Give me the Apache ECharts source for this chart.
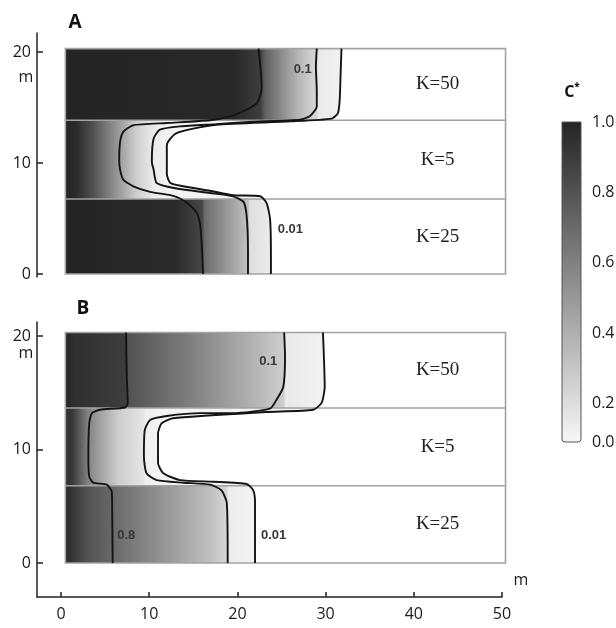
<!DOCTYPE html>
<html>
<head>
<meta charset="utf-8">
<script src="https://cdn.jsdelivr.net/npm/echarts@6/dist/echarts.min.js"></script>
<style>
  html, body { margin: 0; padding: 0; background: #ffffff; }
  #chart { width: 616px; height: 628px; }
</style>
</head>
<body>
<div id="chart"></div>
<script>
// ---------------------------------------------------------------------------
// Model domain and layering (m)
// ---------------------------------------------------------------------------
const domainX = [0.5, 50.4];
const layersA = [0, 6.75, 13.85, 20.3];   // layer boundaries, bottom to top
const layersB = [0, 6.8, 13.65, 20.3];
const kLabels = ['K=25', 'K=5', 'K=50'];  // bottom, middle, top layer

// Axis ticks
const xTicks = [0, 10, 20, 30, 40, 50];
const yTicks = [0, 10, 20];

// ---------------------------------------------------------------------------
// Concentration contours, [x, y] in m, traced from the top of the domain down
// ---------------------------------------------------------------------------
const contourA_08 = [
  [22.4, 20.3], [22.6, 18.7], [22.75, 16.9], [22.6, 16.1], [22.2, 15.4],
  [21.05, 14.8], [19.2, 14.2], [16.9, 13.85], [12.0, 13.6], [8.2, 13.4],
  [7.06, 12.8], [6.7, 11.9], [6.6, 10.3], [6.7, 9.4], [7.06, 8.5],
  [8.2, 7.9], [10.1, 7.4], [12.4, 7.1], [13.5, 6.8], [14.6, 6.2],
  [15.4, 5.5], [15.8, 4.3], [16.0, 2.0], [16.1, 0]
];
const contourA_01 = [
  [29.0, 20.3], [28.9, 18.7], [29.0, 16.5], [29.0, 15.1], [28.2, 14.2],
  [27.1, 13.9], [21.4, 13.7], [17.65, 13.5], [13.5, 13.3], [11.2, 13.0],
  [10.5, 12.2], [10.3, 10.1], [10.5, 9.4], [10.85, 8.2], [13.1, 7.7],
  [16.9, 7.3], [19.5, 7.0], [20.7, 6.5], [21.05, 5.2], [21.2, 2.0], [21.2, 0]
];
const contourA_001 = [
  [31.8, 20.3], [31.7, 18.0], [31.6, 15.7], [31.4, 14.5], [30.7, 14.0],
  [26.0, 13.75], [17.6, 13.45], [15.0, 13.1], [13.1, 12.7], [12.4, 12.2],
  [12.0, 11.6], [12.0, 9.0], [12.4, 8.2], [13.9, 7.9], [16.9, 7.5],
  [19.5, 7.1], [22.6, 7.0], [23.3, 6.4], [23.7, 5.0], [23.8, 2.0], [23.8, 0]
];

const contourB_08 = [
  [7.37, 20.3], [7.45, 16.7], [7.56, 14.1], [7.26, 13.7], [4.4, 13.5],
  [3.5, 13.2], [3.2, 12.3], [3.1, 9.4], [3.2, 7.6], [3.66, 7.07],
  [5.2, 6.9], [5.75, 6.3], [5.8, 5.0], [5.86, 0]
];
const contourB_01 = [
  [25.3, 20.3], [25.4, 18.2], [25.2, 15.5], [24.45, 14.4], [23.7, 13.6],
  [19.5, 13.2], [15.8, 13.2], [12.0, 12.95], [10.1, 12.6], [9.5, 11.7],
  [9.4, 9.4], [9.7, 7.9], [10.85, 7.3], [13.9, 7.07], [16.9, 6.9],
  [18.2, 6.4], [18.8, 5.3], [18.9, 0]
];
const contourB_001 = [
  [29.7, 20.3], [29.9, 15.5], [29.55, 14.1], [28.6, 13.5], [23.3, 13.3],
  [12.7, 12.75], [11.4, 12.3], [11.0, 11.4], [11.0, 8.8], [11.6, 7.9],
  [13.5, 7.3], [17.3, 7.16], [21.05, 6.96], [21.8, 6.4], [22.0, 5.3], [22.0, 0]
];

// ---------------------------------------------------------------------------
// Relative concentration C* across each layer, [x, C*], bottom layer first
// ---------------------------------------------------------------------------
const profileA = [
  [[0.5, 1], [13, 0.97], [16, 0.84], [16.3, 0.66], [21.2, 0.25], [21.4, 0.12], [23.8, 0.05]],
  [[0.5, 1], [1.8, 0.96], [3.5, 0.8], [6.7, 0.42], [8.5, 0.2], [10.4, 0.06], [12.0, 0.02]],
  [[0.5, 1], [19.5, 0.98], [22.6, 0.88], [23.2, 0.7], [27, 0.3], [29, 0.14], [29.2, 0.06], [31.8, 0.03]]
];
const profileB = [
  [[0.5, 0.98], [1.5, 0.9], [3, 0.78], [5.8, 0.68], [12, 0.45], [17, 0.26], [18.8, 0.15], [19.0, 0.05], [22.0, 0.02]],
  [[0.5, 0.95], [1.3, 0.9], [3.1, 0.55], [4, 0.45], [6.5, 0.2], [9.4, 0.08], [9.6, 0.04], [11.0, 0.02]],
  [[0.5, 1], [1.5, 0.95], [7.3, 0.88], [7.6, 0.78], [15, 0.56], [21, 0.35], [25.2, 0.2], [25.5, 0.06], [29.8, 0.03]]
];

// Colour bar
const cbarTicks = [0.1, 0.2, 0.3, 0.4, 0.5, 0.6, 0.7, 0.8, 0.9, 1.0];
const cbarBottom = 0.09;   // lowest level on the bar, labelled 0.0
const cbarLabels = [cbarBottom, 0.2, 0.4, 0.6, 0.8, 1.0];

// ---------------------------------------------------------------------------
// Helpers
// ---------------------------------------------------------------------------
function gray(c) {
  const v = Math.round(247 - c * (247 - 36));
  return 'rgb(' + v + ',' + v + ',' + v + ')';
}

// x position of a contour at height y (contour listed top to bottom)
function xOnContour(pts, y) {
  for (let i = 0; i < pts.length - 1; i++) {
    const [x1, y1] = pts[i], [x2, y2] = pts[i + 1];
    if (y <= y1 && y >= y2) {
      const t = y1 === y2 ? 0 : (y1 - y) / (y1 - y2);
      return x1 + t * (x2 - x1);
    }
  }
  return pts[pts.length - 1][0];
}

// Part of the domain left of the outermost contour inside one layer
function layerOutline(pts, y0, y1) {
  const out = [[domainX[0], y1], [xOnContour(pts, y1), y1]];
  pts.forEach(p => { if (p[1] < y1 && p[1] > y0) out.push(p); });
  out.push([xOnContour(pts, y0), y0], [domainX[0], y0]);
  return out;
}

function shadingSeries(panel, layers, outer, profiles) {
  return {
    type: 'custom', xAxisIndex: panel, yAxisIndex: panel, z: 1, silent: true,
    data: [[0], [1], [2]],
    renderItem: function (params, api) {
      const i = api.value(0);
      const prof = profiles[i];
      const pts = layerOutline(outer, layers[i], layers[i + 1]).map(p => api.coord(p));
      const xs = prof[0][0], xe = prof[prof.length - 1][0];
      const p0 = api.coord([xs, 0]), p1 = api.coord([xe, 0]);
      const stops = prof.map(s => ({ offset: (s[0] - xs) / (xe - xs), color: gray(s[1]) }));
      return {
        type: 'polygon',
        shape: { points: pts },
        style: {
          fill: { type: 'linear', x: p0[0], y: 0, x2: p1[0], y2: 0, global: true, colorStops: stops },
          stroke: null
        }
      };
    }
  };
}

function frameSeries(panel, layers) {
  return {
    type: 'custom', xAxisIndex: panel, yAxisIndex: panel, z: 2, silent: true,
    data: [[0]],
    renderItem: function (params, api) {
      const a = api.coord([domainX[0], layers[0]]);
      const b = api.coord([domainX[1], layers[3]]);
      const children = [{
        type: 'rect',
        shape: { x: a[0], y: b[1], width: b[0] - a[0], height: a[1] - b[1] },
        style: { fill: null, stroke: '#a2a2a2', lineWidth: 1.6 }
      }];
      [layers[1], layers[2]].forEach(yb => {
        const y = api.coord([0, yb])[1];
        children.push({
          type: 'line',
          shape: { x1: a[0], y1: y, x2: b[0], y2: y },
          style: { stroke: '#a2a2a2', lineWidth: 1.6 }
        });
      });
      return { type: 'group', children: children };
    }
  };
}

function contourSeries(panel, pts) {
  return {
    type: 'line', xAxisIndex: panel, yAxisIndex: panel, z: 3, silent: true,
    data: pts, showSymbol: false, symbol: 'none', smooth: 0.2,
    lineStyle: { color: '#141414', width: 1.9 }
  };
}

function textSeries(panel, items, font, color) {
  return {
    type: 'custom', xAxisIndex: panel, yAxisIndex: panel, z: 4, silent: true,
    data: items.map(d => [d.at[0], d.at[1]]),
    renderItem: function (params, api) {
      const p = api.coord([api.value(0), api.value(1)]);
      return {
        type: 'text', x: p[0], y: p[1],
        style: {
          text: items[params.dataIndex].text, font: font, fill: color,
          align: 'center', verticalAlign: 'middle',
          textAlign: 'center', textVerticalAlign: 'middle'
        }
      };
    }
  };
}

function kItems(layers) {
  return kLabels.map((t, i) => ({ text: t, at: [42.7, (layers[i] + layers[i + 1]) / 2] }));
}

const contourFont = 'bold 13px "Liberation Sans"';
const kFont = '19px "Liberation Serif"';
const tickFont = { fontFamily: 'Open Sans', fontSize: 16, color: '#1a1a1a' };

function yAxisFor(grid, min, max) {
  return {
    gridIndex: grid, type: 'value', min: min, max: max,
    axisLine: { show: true, onZero: false, lineStyle: { color: '#222', width: 1.5 } },
    axisTick: { show: true, inside: true, length: 6, customValues: yTicks, lineStyle: { color: '#222', width: 1.5 } },
    axisLabel: Object.assign({ customValues: yTicks, margin: 6 }, tickFont),
    splitLine: { show: false }
  };
}

const chart = echarts.init(document.getElementById('chart'), null, { renderer: 'canvas' });

const option = {
  animation: false,
  backgroundColor: '#ffffff',
  grid: [
    { left: 37, width: 465, top: 33, height: 244, outerBoundsMode: 'none' },
    { left: 37, width: 465, top: 322, height: 275, outerBoundsMode: 'none' },
    { left: 562, width: 19, top: 122, height: 320, outerBoundsMode: 'none' }
  ],
  xAxis: [
    { gridIndex: 0, type: 'value', min: -2.72, max: 50, show: false },
    {
      gridIndex: 1, type: 'value', min: -2.72, max: 50,
      axisLine: { show: true, onZero: false, lineStyle: { color: '#222', width: 1.5 } },
      axisTick: { show: true, inside: true, length: 5, customValues: xTicks, lineStyle: { color: '#222', width: 1.5 } },
      axisLabel: Object.assign({ customValues: xTicks, margin: 9 }, tickFont),
      splitLine: { show: false }
    },
    { gridIndex: 2, type: 'value', min: 0, max: 1, show: false }
  ],
  yAxis: [
    yAxisFor(0, -0.27, 21.71),
    yAxisFor(1, -3.0, 21.23),
    {
      gridIndex: 2, type: 'value', min: cbarBottom, max: 1, position: 'left',
      axisLine: { show: false },
      axisTick: { show: true, inside: true, length: 3, customValues: cbarTicks, lineStyle: { color: '#555' } },
      axisLabel: { show: false }, splitLine: { show: false }
    },
    {
      gridIndex: 2, type: 'value', min: cbarBottom, max: 1, position: 'right',
      axisLine: { show: false },
      axisTick: { show: true, inside: true, length: 3, customValues: cbarTicks, lineStyle: { color: '#555' } },
      axisLabel: Object.assign({
        customValues: cbarLabels, margin: 11,
        formatter: v => (v <= cbarBottom ? 0 : v).toFixed(1)
      }, tickFont),
      splitLine: { show: false }
    }
  ],
  graphic: [
    { type: 'text', x: 75, y: 23, style: { text: 'A', font: 'bold 19px "Open Sans"', fill: '#111', align: 'center', verticalAlign: 'middle', textAlign: 'center', textVerticalAlign: 'middle' } },
    { type: 'text', x: 83, y: 309, style: { text: 'B', font: 'bold 19px "Open Sans"', fill: '#111', align: 'center', verticalAlign: 'middle', textAlign: 'center', textVerticalAlign: 'middle' } },
    { type: 'text', x: 26, y: 77, style: { text: 'm', font: '16px "Open Sans"', fill: '#1a1a1a', align: 'center', verticalAlign: 'middle', textAlign: 'center', textVerticalAlign: 'middle' } },
    { type: 'text', x: 26, y: 353, style: { text: 'm', font: '16px "Open Sans"', fill: '#1a1a1a', align: 'center', verticalAlign: 'middle', textAlign: 'center', textVerticalAlign: 'middle' } },
    { type: 'text', x: 521, y: 580, style: { text: 'm', font: '16px "Open Sans"', fill: '#1a1a1a', align: 'center', verticalAlign: 'middle', textAlign: 'center', textVerticalAlign: 'middle' } },
    {
      type: 'text', x: 572, y: 91,
      style: {
        text: '{c|C}{s|*}', fill: '#111', align: 'center', verticalAlign: 'middle', textAlign: 'center', textVerticalAlign: 'middle',
        rich: {
          c: { font: 'bold 16px "Open Sans"', fill: '#111', verticalAlign: 'bottom' },
          s: { font: 'bold 10px "Open Sans"', fill: '#111', verticalAlign: 'top', padding: [0, 0, 8, 0] }
        }
      }
    }
  ],
  series: [
    shadingSeries(0, layersA, contourA_001, profileA),
    shadingSeries(1, layersB, contourB_001, profileB),
    frameSeries(0, layersA),
    frameSeries(1, layersB),
    contourSeries(0, contourA_08),
    contourSeries(0, contourA_01),
    contourSeries(0, contourA_001),
    contourSeries(1, contourB_08),
    contourSeries(1, contourB_01),
    contourSeries(1, contourB_001),
    textSeries(0, [{ text: '0.1', at: [27.4, 18.4] }, { text: '0.01', at: [26.0, 4.05] }], contourFont, '#383838'),
    textSeries(1, [{ text: '0.1', at: [23.5, 17.8] }, { text: '0.8', at: [7.4, 2.4] }, { text: '0.01', at: [24.1, 2.4] }], contourFont, '#383838'),
    textSeries(0, kItems(layersA), kFont, '#222'),
    textSeries(1, kItems(layersB), kFont, '#222'),
    // colour bar
    {
      type: 'custom', xAxisIndex: 2, yAxisIndex: 2, z: 1, silent: true,
      data: [[0]],
      renderItem: function (params, api) {
        const top = api.coord([0, 1]);
        const bot = api.coord([1, cbarBottom]);
        return {
          type: 'rect',
          shape: { x: top[0], y: top[1], width: bot[0] - top[0], height: bot[1] - top[1], r: [0, 0, 3, 3] },
          style: {
            fill: {
              type: 'linear', x: 0, y: 0, x2: 0, y2: 1,
              colorStops: [{ offset: 0, color: gray(1) }, { offset: 1, color: gray(0) }]
            },
            stroke: '#555', lineWidth: 1
          }
        };
      }
    }
  ]
};

chart.setOption(option);
</script>
</body>
</html>
